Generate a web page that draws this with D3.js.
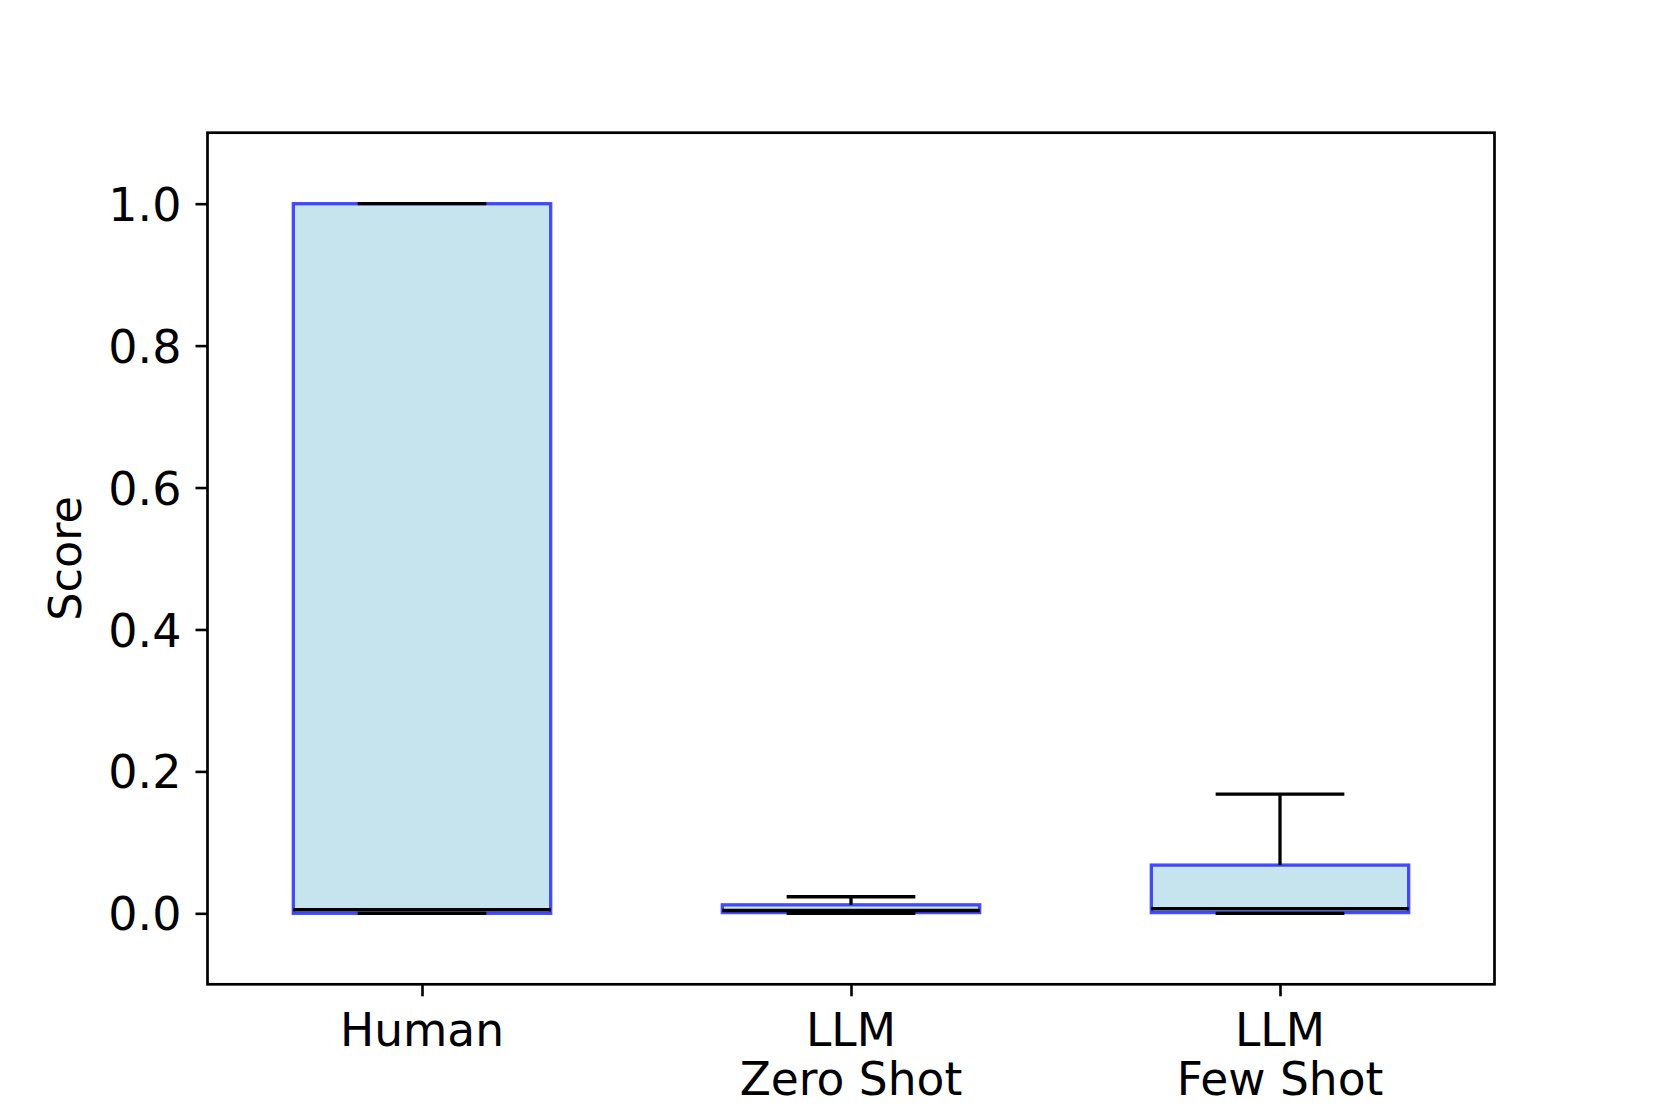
<!DOCTYPE html>
<html>
<head>
<meta charset="utf-8">
<script src="https://cdn.jsdelivr.net/npm/d3@7"></script>
<style>
  html, body { margin: 0; padding: 0; background: #fff; }
  svg { display: block; }
  text { font-family: "DejaVu Sans", sans-serif; fill: #000; }
</style>
</head>
<body>
<svg id="chart" width="1661" height="1107"></svg>
<script>
// ---- data ----
const categories = ["Human", "LLM\nZero Shot", "LLM\nFew Shot"];
const whiskerLow  = [0.0, 0.0, 0.0];
const q1Values    = [0.0, 0.001, 0.001];
const medians     = [0.005, 0.004, 0.0065];
const q3Values    = [1.0, 0.012, 0.068];
const whiskerHigh = [1.0, 0.0234, 0.168];
const yTicks      = [0.0, 0.2, 0.4, 0.6, 0.8, 1.0];
const yLabel      = "Score";

// ---- layout ----
const plotLeft = 207.5, plotRight = 1494.5, plotTop = 132.7, plotBottom = 984.3;
const svg = d3.select("#chart");

const x = d3.scaleLinear().domain([0.5, 3.5]).range([plotLeft, plotRight]);
const y = d3.scaleLinear().domain([-0.1, 1.1]).range([plotBottom, plotTop]);

const boxW = 0.6, capW = 0.3;
const boxes = categories.map((c, i) => ({
  pos: i + 1, lo: whiskerLow[i], q1: q1Values[i], med: medians[i], q3: q3Values[i], hi: whiskerHigh[i]
}));

const g = svg.append("g");

// boxes
g.selectAll("rect.box").data(boxes).join("rect")
  .attr("class", "box")
  .attr("x", d => x(d.pos - boxW / 2))
  .attr("width", d => x(d.pos + boxW / 2) - x(d.pos - boxW / 2))
  .attr("y", d => y(d.q3))
  .attr("height", d => y(d.q1) - y(d.q3))
  .attr("fill", "rgb(173,216,230)").attr("fill-opacity", 0.7)
  .attr("stroke", "rgb(0,0,255)").attr("stroke-opacity", 0.7)
  .attr("stroke-width", 3.3);

// whiskers, caps, medians
boxes.forEach(d => {
  [[d.q1, d.lo], [d.q3, d.hi]].forEach(([a, b]) => {
    g.append("line")
      .attr("x1", x(d.pos)).attr("x2", x(d.pos))
      .attr("y1", y(a)).attr("y2", y(b))
      .attr("stroke", "#000").attr("stroke-width", 3.3);
  });
  [d.lo, d.hi].forEach(v => {
    g.append("line")
      .attr("x1", x(d.pos - capW / 2)).attr("x2", x(d.pos + capW / 2))
      .attr("y1", y(v)).attr("y2", y(v))
      .attr("stroke", "#000").attr("stroke-width", 3.3);
  });
  g.append("line")
    .attr("x1", x(d.pos - boxW / 2)).attr("x2", x(d.pos + boxW / 2))
    .attr("y1", y(d.med)).attr("y2", y(d.med))
    .attr("stroke", "#000").attr("stroke-width", 3.5);
});

// axes
const yAxis = d3.axisLeft(y).tickValues(yTicks).tickFormat(d3.format(".1f")).tickSize(12).tickPadding(14);
const ya = svg.append("g").attr("transform", `translate(${plotLeft},0)`).call(yAxis);
ya.select(".domain").remove();
ya.selectAll(".tick line").attr("stroke-width", 2.6);
ya.selectAll(".tick text").attr("font-size", 46).attr("dy", "0.36em")
  .style("font-family", "DejaVu Sans, sans-serif").attr("fill", "#000");

const xAxis = d3.axisBottom(x).tickValues([1, 2, 3]).tickFormat("").tickSize(12);
const xa = svg.append("g").attr("transform", `translate(0,${plotBottom})`).call(xAxis);
xa.select(".domain").remove();
xa.selectAll(".tick line").attr("stroke-width", 2.6);

// x tick labels (multi-line)
categories.forEach((c, i) => {
  const t = svg.append("text")
    .attr("x", x(i + 1)).attr("y", 1045.5)
    .attr("text-anchor", "middle").attr("font-size", 45.5);
  c.split("\n").forEach((line, k) => {
    t.append("tspan").attr("x", x(i + 1)).attr("dy", k === 0 ? 0 : 49.5).text(line);
  });
});

// spines
svg.append("rect")
  .attr("x", plotLeft).attr("y", plotTop)
  .attr("width", plotRight - plotLeft).attr("height", plotBottom - plotTop)
  .attr("fill", "none").attr("stroke", "#000").attr("stroke-width", 2.7);

// y label
svg.append("text")
  .attr("transform", `translate(81,${(plotTop + plotBottom) / 2}) rotate(-90)`)
  .attr("text-anchor", "middle").attr("font-size", 44.5)
  .text(yLabel);
</script>
</body>
</html>
